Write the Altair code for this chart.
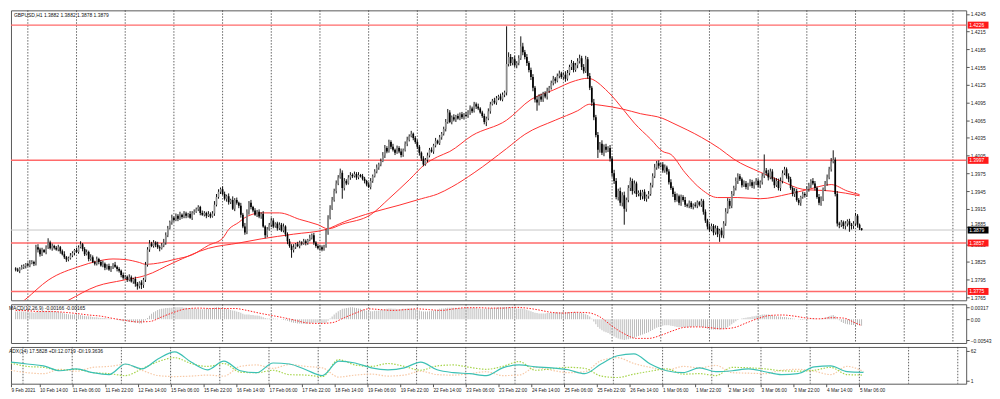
import altair as alt
import pandas as pd

# ---------------- data (prices in pips above 1.3700) ----------------
first_open = 114
closes = [112,110,114,116,118,121,119,123,125,122,150,
 146,138,145,142,150,158,148,152,149,146,150,
 143,138,133,129,131,
 136,140,145,142,150,155,
 147,138,142,130,133,125,122,
 130,125,119,122,115,118,112,116,120,117,113,110,
 103,98,100,95,99,92,96,88,84,90,86,
 95,120,146,
 156,152,158,154,150,
 148,153,158,
 170,182,192,200,196,203,198,205,201,207,
 203,206,200,208,210,214,218,208,
 205,208,203,206,202,207,
 222,235,244,248,240,
 232,236,226,230,215,230,225,220,
 205,185,175,
 210,225,218,
 212,205,210,202,206,
 185,170,
 180,188,195,185,190,182,188,178,185,
 172,160,152,145,150,
 155,152,158,156,160,157,162,166,170,
 158,152,148,150,146,152,
 175,200,215,230,245,258,268,276,
 250,262,258,268,272,
 270,274,268,272,270,266,262,
 256,252,
 262,270,278,285,290,296,
 305,318,312,328,
 320,315,310,318,312,306,314,
 325,332,338,342,335,
 328,320,310,300,290,
 298,305,315,312,322,330,326,336,342,
 350,362,378,362,
 370,366,372,368,375,370,374,372,
 378,385,380,392,388,385,378,372,362,368,
 380,392,398,395,402,405,400,408,412,
 460,472,
 462,468,458,462,470,
 490,
 480,472,462,450,438,
 420,400,395,
 405,400,410,405,415,
 420,428,435,432,440,444,438,442,
 435,445,455,462,450,458,
 465,470,455,448,468,
 440,420,395,370,
 340,315,
 325,310,320,315,318,
 300,275,262,
 235,245,225,238,215,230,
 250,262,245,258,240,
 242,236,244,232,236,240,
 255,270,285,292,288,290,280,
 285,278,260,250,240,230,236,225,
 235,230,222,
 220,225,218,222,220,226,222,228,
 210,195,185,
 180,186,175,182,172,178,170,
 190,210,228,220,240,250,
 262,270,265,
 255,258,252,256,260,254,258,262,255,260,
 270,280,275,268,
 278,265,255,262,250,
 262,275,282,270,265,
 250,240,245,230,225,
 235,240,238,
 248,255,262,258,250,
 235,225,232,
 248,258,268,
 282,295,298,
 240,190,
 188,192,186,190,194,188,186,190,
 203,188,182,179]

upper_wick = [2,3,2,4,3,2,3,5,3,2,4,5,3,4,2,3,7,3,4,2,
 3,4,2,3,5,2,3,4,3,2,4,3,5,2,3,4,2,5,3,2,
 4,2,3,5,2,3,4,2,3,5,2,3,2,4,3,2,5,3,2,4,
 3,2,4,3,5,4,6,3,4,2,5,3,4,6,5,4,3,5,2,4,
 3,5,2,4,3,2,5,3,4,3,3,2,4,3,2,5,3,4,6,5,
 4,3,5,4,3,5,2,6,3,4,2,5,3,6,4,3,5,2,4,3,
 4,3,5,2,4,3,5,4,2,3,4,3,5,2,3,4,3,5,2,4,
 3,2,4,3,2,5,3,4,2,3,4,3,2,5,4,6,5,4,5,4,
 7,4,5,3,4,5,3,4,3,5,2,4,3,2,4,5,3,4,5,3,
 4,6,5,3,4,3,5,2,4,3,5,3,4,5,3,5,2,3,4,3,
 2,4,3,5,3,4,3,5,2,4,3,4,5,6,4,3,5,2,4,3,
 4,3,5,4,5,3,4,3,5,2,3,4,3,5,4,3,5,4,3,5,
 4,3,64,8,5,4,6,3,5,17,6,4,5,3,4,5,3,6,4,5,
 3,4,5,3,4,5,3,4,5,3,4,6,5,4,5,3,4,5,6,4,
 5,6,4,5,3,6,4,5,3,6,4,5,3,5,4,6,5,4,6,5,
 6,4,5,6,4,5,3,4,5,3,4,3,5,4,5,6,4,5,3,4,
 5,3,4,5,3,4,5,3,4,3,5,2,4,3,2,4,3,2,4,3,
 4,3,5,4,3,5,4,3,5,4,6,5,4,5,4,6,5,4,3,5,
 4,3,5,4,3,5,4,3,5,27,4,6,5,4,3,5,4,6,5,4,
 3,5,4,3,5,4,3,2,4,3,5,4,3,5,4,3,5,4,3,4,
 5,4,6,16,4,5,3,4,3,4,3,4,3,4,5,3,2,0]

lower_wick = [3,2,4,2,3,4,2,3,2,4,3,5,4,3,2,4,3,2,4,3,
 2,3,4,2,3,4,3,2,3,4,2,3,2,4,3,2,4,3,2,3,
 3,4,2,3,4,3,2,4,3,2,4,3,4,3,2,4,3,2,4,5,
 6,4,7,5,4,3,4,2,3,4,3,5,2,3,4,3,2,4,3,2,
 4,2,3,2,4,3,2,4,3,2,3,4,2,3,4,2,3,2,4,3,
 3,4,2,3,5,4,3,2,4,3,4,5,3,4,3,5,4,3,2,4,
 3,4,2,5,3,2,4,3,2,4,3,2,3,4,5,3,13,4,3,2,
 4,3,2,4,3,2,3,4,3,2,4,3,2,3,4,3,2,3,4,3,
 2,18,4,3,2,4,3,2,4,3,2,3,4,3,2,4,3,2,3,4,
 3,2,4,3,2,4,3,4,2,3,4,3,2,4,3,2,4,3,4,5,
 4,3,2,4,3,2,4,3,2,3,4,3,4,3,2,4,3,4,2,3,
 3,4,2,3,4,3,2,4,3,2,3,4,7,3,4,2,3,4,3,2,
 3,4,5,4,5,4,3,5,4,3,5,4,5,4,5,6,5,14,5,4,
 4,3,5,4,3,4,5,3,4,3,4,5,3,4,5,4,3,5,4,5,
 4,3,5,4,6,5,4,14,5,4,6,5,4,5,6,5,4,6,5,6,
 27,5,4,5,6,4,5,4,6,5,4,5,4,3,4,3,4,5,3,4,
 4,5,4,3,5,4,3,4,5,3,4,3,4,3,4,3,4,3,4,5,
 4,5,4,3,5,4,5,13,4,5,4,3,5,4,3,4,5,3,4,3,
 4,5,3,4,5,3,4,5,4,3,4,5,3,4,5,3,4,5,4,3,
 4,5,3,4,5,3,4,5,3,4,3,4,5,3,4,3,4,5,4,3,
 4,3,4,3,4,5,6,4,5,6,5,12,6,5,4,5,3,1]

# moving averages, read at bar positions (pips above 1.3700)
ma_fast_idx = [0,5,16,32,40,48,54,61,64,72,78,87,95,102,105,110,113,121,130,140,
               149,154,161,175,184,194,202,208,214,225,242,254,265,276,282,292,300,305,313,319,
               323,330,338,346,356,367,381,391,402,410,416]
ma_fast = [48,62,94,118,126,130,129,124,121,124,129,137,153,165,180,192,200,208,208,197,
           188,181,189,205,232,264,291,303,312,339,365,400,416,432,436,413,381,360,333,312,
           307,276,248,234,234,232,240,248,256,245,239]
ma_slow_idx = [19,26,40,53,64,78,95,110,121,137,153,162,176,189,200,208,215,226,242,251,
               266,277,283,289,299,308,319,324,338,347,354,367,378,388,402,416]
ma_slow = [47,60,84,94,102,124,148,157,164,172,180,193,209,221,232,240,252,276,317,341,
           365,381,392,390,384,376,368,360,336,317,299,277,261,248,245,237]

# MACD histogram per bar (units of 0.0001)
macd_hist = [20,21,21,20,20,19,19,18,18,17,19,20,21,21,22,22,23,22,22,21,20,
 19,18,17,15,14,13,12,12,12,12,
 12,11,10,9,8,8,7,6,5,5,4,3,3,3,2,2,1,
 0,-1,-2,-3,-4,-5,-5,-6,-7,-8,-8,-9,-10,-11,-11,-8,
 -3,3,9,14,18,21,24,26,27,28,29,29,30,
 30,31,31,31,31,31,30,30,29,29,28,28,27,27,26,26,26,27,28,
 28,29,30,31,31,30,29,28,27,26,24,23,22,20,19,
 17,14,12,12,12,11,11,10,10,9,7,5,3,2,2,2,2,1,1,0,-1,-2,-3,-4,-6,-8,-9,-10,-11,-11,-12,-12,-12,
 -11,-11,-10,-9,-9,-9,-9,-10,-10,-9,
 -4,2,7,12,17,21,24,27,28,29,30,31,
 31,30,29,28,27,25,24,22,21,21,21,22,22,23,24,25,26,27,28,28,27,27,26,26,26,27,27,28,28,28,
 27,26,25,23,21,20,20,20,21,22,23,24,25,27,28,
 28,29,30,30,30,30,30,29,29,29,29,29,30,30,30,30,29,28,27,27,27,28,28,29,29,30,30,31,31,31,
 32,32,32,31,30,
 29,28,28,28,27,26,25,23,21,19,17,16,15,15,15,15,16,16,17,17,18,18,18,18,19,19,19,19,19,18,
 18,17,17,16,15,13,11,
 7,1,-6,-13,-20,-25,-29,-32,-34,-36,-39,-42,-45,-48,-50,-52,-53,-54,
 -53,-52,-51,-50,-48,-46,-44,-42,-40,-38,-36,-34,-31,-28,-25,-22,-20,-18,-17,-16,-16,-16,-17,-18,
 -19,-20,-21,-21,-21,-21,
 -21,-20,-20,-19,-19,-19,-19,-20,-21,-23,-25,-26,-27,-27,-27,-27,-27,-26,-25,-24,
 -21,-17,-13,-9,-5,-2,0,2,3,4,5,6,7,8,9,10,11,12,12,12,
 12,11,10,9,8,7,7,6,6,5,4,3,2,1,0,-1,-2,-2,-1,0,1,2,2,1,0,0,1,2,4,6,
 8,10,11,8,2,-3,-7,-10,-12,-13,-14,-15,-15,-15,-15,-16,-17]

signal_idx = [0,6,12,18,24,30,36,42,48,54,60,66,72,78,84,90,96,102,108,114,120,126,132,138,
              144,150,156,162,168,174,180,186,192,198,204,210,216,222,228,234,240,246,252,258,
              264,270,276,282,288,294,300,306,312,318,324,330,336,342,348,354,360,366,372,378,
              384,390,396,402,408,414,417]
signal_vals = [23,22,20,20,18,15,11,8,2,-3,-7,-6,6,18,27,29,28,28,28,23,16,10,4,-3,
               -10,-11,-9,4,17,27,25,23,25,27,25,23,27,30,30,29,29,31,29,24,
               18,16,18,17,6,-18,-38,-50,-50,-42,-30,-21,-20,-22,-25,-22,-10,2,10,11,
               8,3,1,4,3,-10,-16.5]

# ADX / DI, read every 8 bars
dmi_idx = [0,8,16,24,32,40,48,56,64,72,80,88,96,104,112,120,128,136,144,152,160,168,176,184,
           192,200,208,216,224,232,240,248,256,264,272,280,288,296,304,312,320,328,336,344,
           352,360,368,376,384,392,400,408,416]
adx = [39,35,31,21,25,17,13,35,25,46,60,39,23,41,21,17,37,35,23,11,41,37,27,23,27,39,23,17,15,11,
       27,33,29,27,23,15,35,52,56,35,21,17,27,19,21,25,19,13,15,29,31,19,17.6]
plus_di = [37,30,28,22,24,17,15,11,25,40,48,36,30,36,18,17,22,13,12,9,44,33,30,36,30,22,31,33,28,24,
           30,40,22,25,28,26,10,7,14,20,25,14,15,11,28,27,25,21,20,22,28,13,12.1]
minus_di = [22,17,15,24,20,28,30,34,22,11,9,10,12,10,30,33,26,34,30,27,8,12,14,10,12,20,13,12,15,19,
            11,12,28,22,17,19,42,48,36,28,22,30,27,32,17,16,15,22,24,20,13,30,19.4]

level_prices = [1.4226, 1.3997, 1.3857, 1.3775]
last_price = 1.3879
price_ticks = [1.3765, 1.3795, 1.3825, 1.3855, 1.3885, 1.3915, 1.3945, 1.3975, 1.4005,
               1.4035, 1.4065, 1.4095, 1.4125, 1.4155, 1.4185, 1.4215, 1.4245]
grid_idx = [6, 30, 54, 78, 102, 126, 150, 174, 198, 222, 246, 270, 294, 318, 342, 366, 390, 414, 438, 462]
time_label_idx = [14, 30, 46, 62, 78, 94, 110, 126, 142, 158, 174, 190, 206, 222, 238, 254,
                  270, 286, 302, 318, 334, 350, 366, 382, 398, 414]
time_labels = ["10 Feb 14:00", "11 Feb 06:00", "11 Feb 22:00", "12 Feb 14:00", "15 Feb 06:00",
               "15 Feb 22:00", "16 Feb 14:00", "17 Feb 06:00", "17 Feb 22:00", "18 Feb 14:00",
               "19 Feb 06:00", "19 Feb 22:00", "22 Feb 14:00", "23 Feb 06:00", "23 Feb 22:00",
               "24 Feb 14:00", "25 Feb 06:00", "25 Feb 22:00", "26 Feb 14:00", "1 Mar 06:00",
               "1 Mar 22:00", "2 Mar 14:00", "3 Mar 06:00", "3 Mar 22:00", "4 Mar 14:00", "5 Mar 06:00"]
first_time_label = "9 Feb 2021"
header_main = "GBPUSD,H1  1.3882 1.3882 1.3878 1.3879"
header_macd = "MACD(12,26,9) -0.00166 -0.00165"
header_dmi = "ADX(14) 17.5828 +DI:12.0719 -DI:19.3636"

# ---------------- layout ----------------
W = 962
H1, H2, H3 = 292, 39, 37
FONT = "Liberation Sans"
FS = 5
FSX = 4.8
XDOM = [0.14, 466.1]

def pip(v):
    return round(1.37 + v / 10000.0, 5)

N = len(closes)
opens = [first_open] + closes[:-1]
cdf = pd.DataFrame({
    "i": list(range(N)),
    "open": [pip(v) for v in opens],
    "close": [pip(v) for v in closes],
    "high": [pip(max(o, c) + u) for o, c, u in zip(opens, closes, upper_wick)],
    "low": [pip(min(o, c) - l) for o, c, l in zip(opens, closes, lower_wick)],
    "dir": ["up" if c >= o else "down" for o, c in zip(opens, closes)],
})

xscale = alt.Scale(domain=XDOM, nice=False, zero=False)
def X(field="i:Q", axis=None):
    return alt.X(field, scale=xscale, axis=axis, title=None)

grid_df = pd.DataFrame({"i": grid_idx})
def grid(axis=None):
    return alt.Chart(grid_df).mark_rule(color="#3c3c3c", strokeDash=[1.5, 1.5], strokeWidth=0.8).encode(x=X(axis=axis))

# ---- main panel ----
ysc = alt.Scale(domain=[1.3760, 1.4251], nice=False, zero=False)
yax = alt.Axis(orient="right", values=price_ticks, format=".4f", labelFontSize=FS, labelFont=FONT,
               labelColor="#222", tickColor="#555", tickSize=3, labelPadding=1, domain=False,
               labelOffset={"expr": "datum.value == 1.3885 ? -3 : 0"},
               grid=False, title=None)
def Y(field):
    return alt.Y(field, scale=ysc, axis=yax, title=None)

col = alt.Color("dir:N", scale=alt.Scale(domain=["up", "down"], range=["#8c8c8c", "#000000"]), legend=None)

wicks = alt.Chart(cdf).mark_rule(strokeWidth=1, clip=True, color="#111111").encode(x=X(), y=Y("low:Q"), y2="high:Q")
bodies = alt.Chart(cdf).mark_bar(width=1.7, clip=True).encode(x=X(), y=Y("open:Q"), y2="close:Q", color=col)

fast_df = pd.DataFrame({"i": ma_fast_idx, "v": [pip(v) for v in ma_fast]})
slow_df = pd.DataFrame({"i": ma_slow_idx, "v": [pip(v) for v in ma_slow]})
ma1 = alt.Chart(fast_df).mark_line(color="#ff3030", strokeWidth=1, clip=True, interpolate="monotone").encode(x=X(), y=Y("v:Q"))
ma2 = alt.Chart(slow_df).mark_line(color="#ff3030", strokeWidth=1, clip=True, interpolate="monotone").encode(x=X(), y=Y("v:Q"))

lvl_df = pd.DataFrame({"p": level_prices, "t": [f"{p:.4f}" for p in level_prices]})
last_df = pd.DataFrame({"p": [last_price], "t": [f"{last_price:.4f}"]})
lvl_lines = alt.Chart(lvl_df).mark_rule(color="#ff6a6a", strokeWidth=1.5).encode(y=Y("p:Q"))
last_line = alt.Chart(last_df).mark_rule(color="#c8c8c8", strokeWidth=1).encode(y=Y("p:Q"))
lvl_box = alt.Chart(lvl_df).mark_tick(orient="horizontal", size=21, thickness=7, color="#ff1a1a", opacity=1).encode(
    x=alt.value(W + 12), y=Y("p:Q"))
lvl_txt = alt.Chart(lvl_df).mark_text(align="left", baseline="middle", font=FONT, fontSize=FS, color="white").encode(
    x=alt.value(W + 3), y=Y("p:Q"), text="t:N")
last_box = alt.Chart(last_df).mark_tick(orient="horizontal", size=21, thickness=7, color="#000000", opacity=1).encode(
    x=alt.value(W + 12), y=Y("p:Q"))
last_txt = alt.Chart(last_df).mark_text(align="left", baseline="middle", font=FONT, fontSize=FS, color="white").encode(
    x=alt.value(W + 3), y=Y("p:Q"), text="t:N")

head_df = pd.DataFrame({"t": [header_main]})
head = alt.Chart(head_df).mark_text(align="left", baseline="top", font=FONT, fontSize=FS, color="#111").encode(
    x=alt.value(3), y=alt.value(3), text="t:N")

main = alt.layer(grid(), last_line, lvl_lines, ma2, ma1, wicks, bodies, lvl_box, lvl_txt, last_box, last_txt, head).properties(
    width=W, height=H1)

# ---- MACD panel ----
msc = alt.Scale(domain=[-0.0062, 0.0039], nice=False, zero=False)
max_ = alt.Axis(orient="right", values=[0.00317, 0.0, -0.00543],
                labelExpr="datum.value == 0 ? '0.00' : format(datum.value, '.5f')",
                labelFontSize=FS, labelFont=FONT, labelColor="#222", tickColor="#555", tickSize=3,
                labelPadding=1, domain=False, grid=False, title=None)
hist_df = pd.DataFrame({"i": list(range(len(macd_hist))), "m": [v / 10000.0 for v in macd_hist]})
sig_df = pd.DataFrame({"i": signal_idx, "s": [v / 10000.0 for v in signal_vals]})
hist = alt.Chart(hist_df).mark_bar(width=0.9, color="#b4b4b4", clip=True).encode(
    x=X(), y=alt.Y("m:Q", scale=msc, axis=max_, title=None), y2=alt.datum(0))
sig = alt.Chart(sig_df).mark_line(color="#ff2020", strokeWidth=1, strokeDash=[1.5, 1.5], clip=True,
                                  interpolate="monotone").encode(
    x=X(), y=alt.Y("s:Q", scale=msc, axis=max_, title=None))
mhead = alt.Chart(pd.DataFrame({"t": [header_macd]})).mark_text(
    align="left", baseline="top", font=FONT, fontSize=FS, color="#111").encode(x=alt.value(-2), y=alt.value(2), text="t:N")
macd = alt.layer(grid(), hist, sig, mhead).properties(width=W, height=H2)

# ---- ADX panel ----
dsc = alt.Scale(domain=[-5.8, 70.2], nice=False, zero=False)
dax = alt.Axis(orient="right", values=[62, 1], format="d", labelFontSize=FS, labelFont=FONT,
               labelColor="#222", tickColor="#555", tickSize=3, labelPadding=1, domain=False,
               grid=False, title=None)
label_js = "[" + ",".join("'" + s + "'" for s in time_labels) + "]"
xax = alt.Axis(orient="bottom", values=[XDOM[0]] + time_label_idx,
               labelExpr=f"datum.value < 5 ? '{first_time_label}' : {label_js}[round((datum.value - {time_label_idx[0]}) / 16)]",
               labelAlign="left", labelBaseline="top", labelFontSize=FSX, labelFont=FONT, labelColor="#222",
               tickColor="#555", tickSize=3, labelPadding=1, domain=False, grid=False, labelOverlap=False,
               labelBound=False, labelFlush=False, title=None)
dmi_df = pd.DataFrame({"i": dmi_idx, "adx": adx, "pdi": plus_di, "mdi": minus_di})
def D(field):
    return alt.Y(field, scale=dsc, axis=dax, title=None)
adx_l = alt.Chart(dmi_df).mark_line(color="#3cc0b4", strokeWidth=1.2, interpolate="monotone", clip=True).encode(x=X(axis=xax), y=D("adx:Q"))
pdi_l = alt.Chart(dmi_df).mark_line(color="#a6d44a", strokeWidth=1.2, strokeDash=[1.5, 1.5], interpolate="monotone", clip=True).encode(x=X(axis=xax), y=D("pdi:Q"))
mdi_l = alt.Chart(dmi_df).mark_line(color="#f7c9a6", strokeWidth=1.2, strokeDash=[1.5, 1.5], interpolate="monotone", clip=True).encode(x=X(axis=xax), y=D("mdi:Q"))
dhead = alt.Chart(pd.DataFrame({"t": [header_dmi]})).mark_text(
    align="left", baseline="top", font=FONT, fontSize=FS, color="#111").encode(x=alt.value(-2), y=alt.value(2), text="t:N")
dmi = alt.layer(grid(axis=xax), mdi_l, pdi_l, adx_l, dhead).properties(width=W, height=H3)

chart = alt.vconcat(main, macd, dmi, spacing=2).properties(
    padding={"left": 0, "top": 0, "right": 0, "bottom": 0}, background="white"
).configure_view(stroke="#5a5a5a", strokeWidth=1)

chart.save("out.html", embed_options={"renderer": "svg", "actions": False})
